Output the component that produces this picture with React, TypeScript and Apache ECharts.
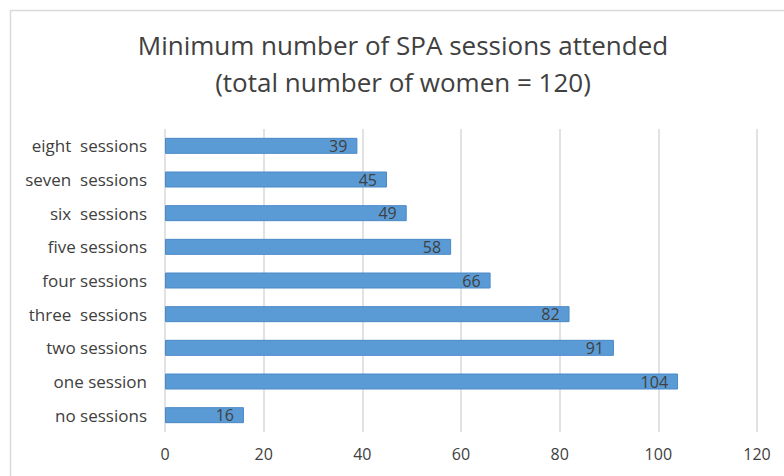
import React, { useEffect, useRef } from "react";
import * as echarts from "echarts";

const categories = [
  "no sessions",
  "one session",
  "two sessions",
  "three  sessions",
  "four sessions",
  "five sessions",
  "six  sessions",
  "seven  sessions",
  "eight  sessions",
];
const values = [16, 104, 91, 82, 66, 58, 49, 45, 39];
const titleLines = [
  "Minimum number of SPA sessions attended",
  "(total number of women = 120)",
];
const xMin = 0;
const xMax = 120;
const xStep = 20;

const FONT = "'Open Sans', 'Noto Sans', sans-serif";

export default function App() {
  const ref = useRef<HTMLDivElement>(null);
  useEffect(() => {
    if (!ref.current) return;
    const chart = echarts.init(ref.current, undefined, { renderer: "svg" });
    chart.setOption({
      animation: false,
      backgroundColor: "#ffffff",
      graphic: [
        {
          type: "rect",
          shape: { x: 10.5, y: 10.5, width: 800, height: 500 },
          style: { fill: "none", stroke: "#d9d9d9", lineWidth: 1.5 },
          silent: true,
        },
        {
          type: "text",
          x: 403,
          y: 26,
          style: {
            text: titleLines.join("\n"),
            fontFamily: FONT,
            fontSize: 26,
            lineHeight: 37,
            fill: "#404040",
            align: "center",
            verticalAlign: "top",
          },
        },
      ],
      grid: {
        left: 165,
        right: 27,
        top: 129,
        bottom: 44,
        containLabel: false,
      },
      xAxis: {
        type: "value",
        min: xMin,
        max: xMax,
        interval: xStep,
        axisLine: { show: false },
        axisTick: { show: false },
        splitLine: { show: true, lineStyle: { color: "#d9d9d9", width: 1.5 } },
        axisLabel: {
          color: "#404040",
          fontFamily: FONT,
          fontSize: 16,
          margin: 14,
        },
      },
      yAxis: {
        type: "category",
        data: categories,
        axisLine: { show: false },
        axisTick: { show: false },
        axisLabel: {
          color: "#404040",
          fontFamily: FONT,
          fontSize: 17,
          margin: 18,
        },
      },
      series: [
        {
          type: "bar",
          data: values,
          barWidth: 16,
          itemStyle: {
            color: "#5b9bd5",
            borderColor: "#4a89c8",
            borderWidth: 1,
          },
          label: {
            show: true,
            position: "insideRight",
            distance: 10,
            color: "#404040",
            fontFamily: FONT,
            fontSize: 16,
          },
        },
      ],
    });
    return () => chart.dispose();
  }, []);
  return <div ref={ref} style={{ width: 784, height: 476, position: "fixed", left: 0, top: 0 }} />;
}
